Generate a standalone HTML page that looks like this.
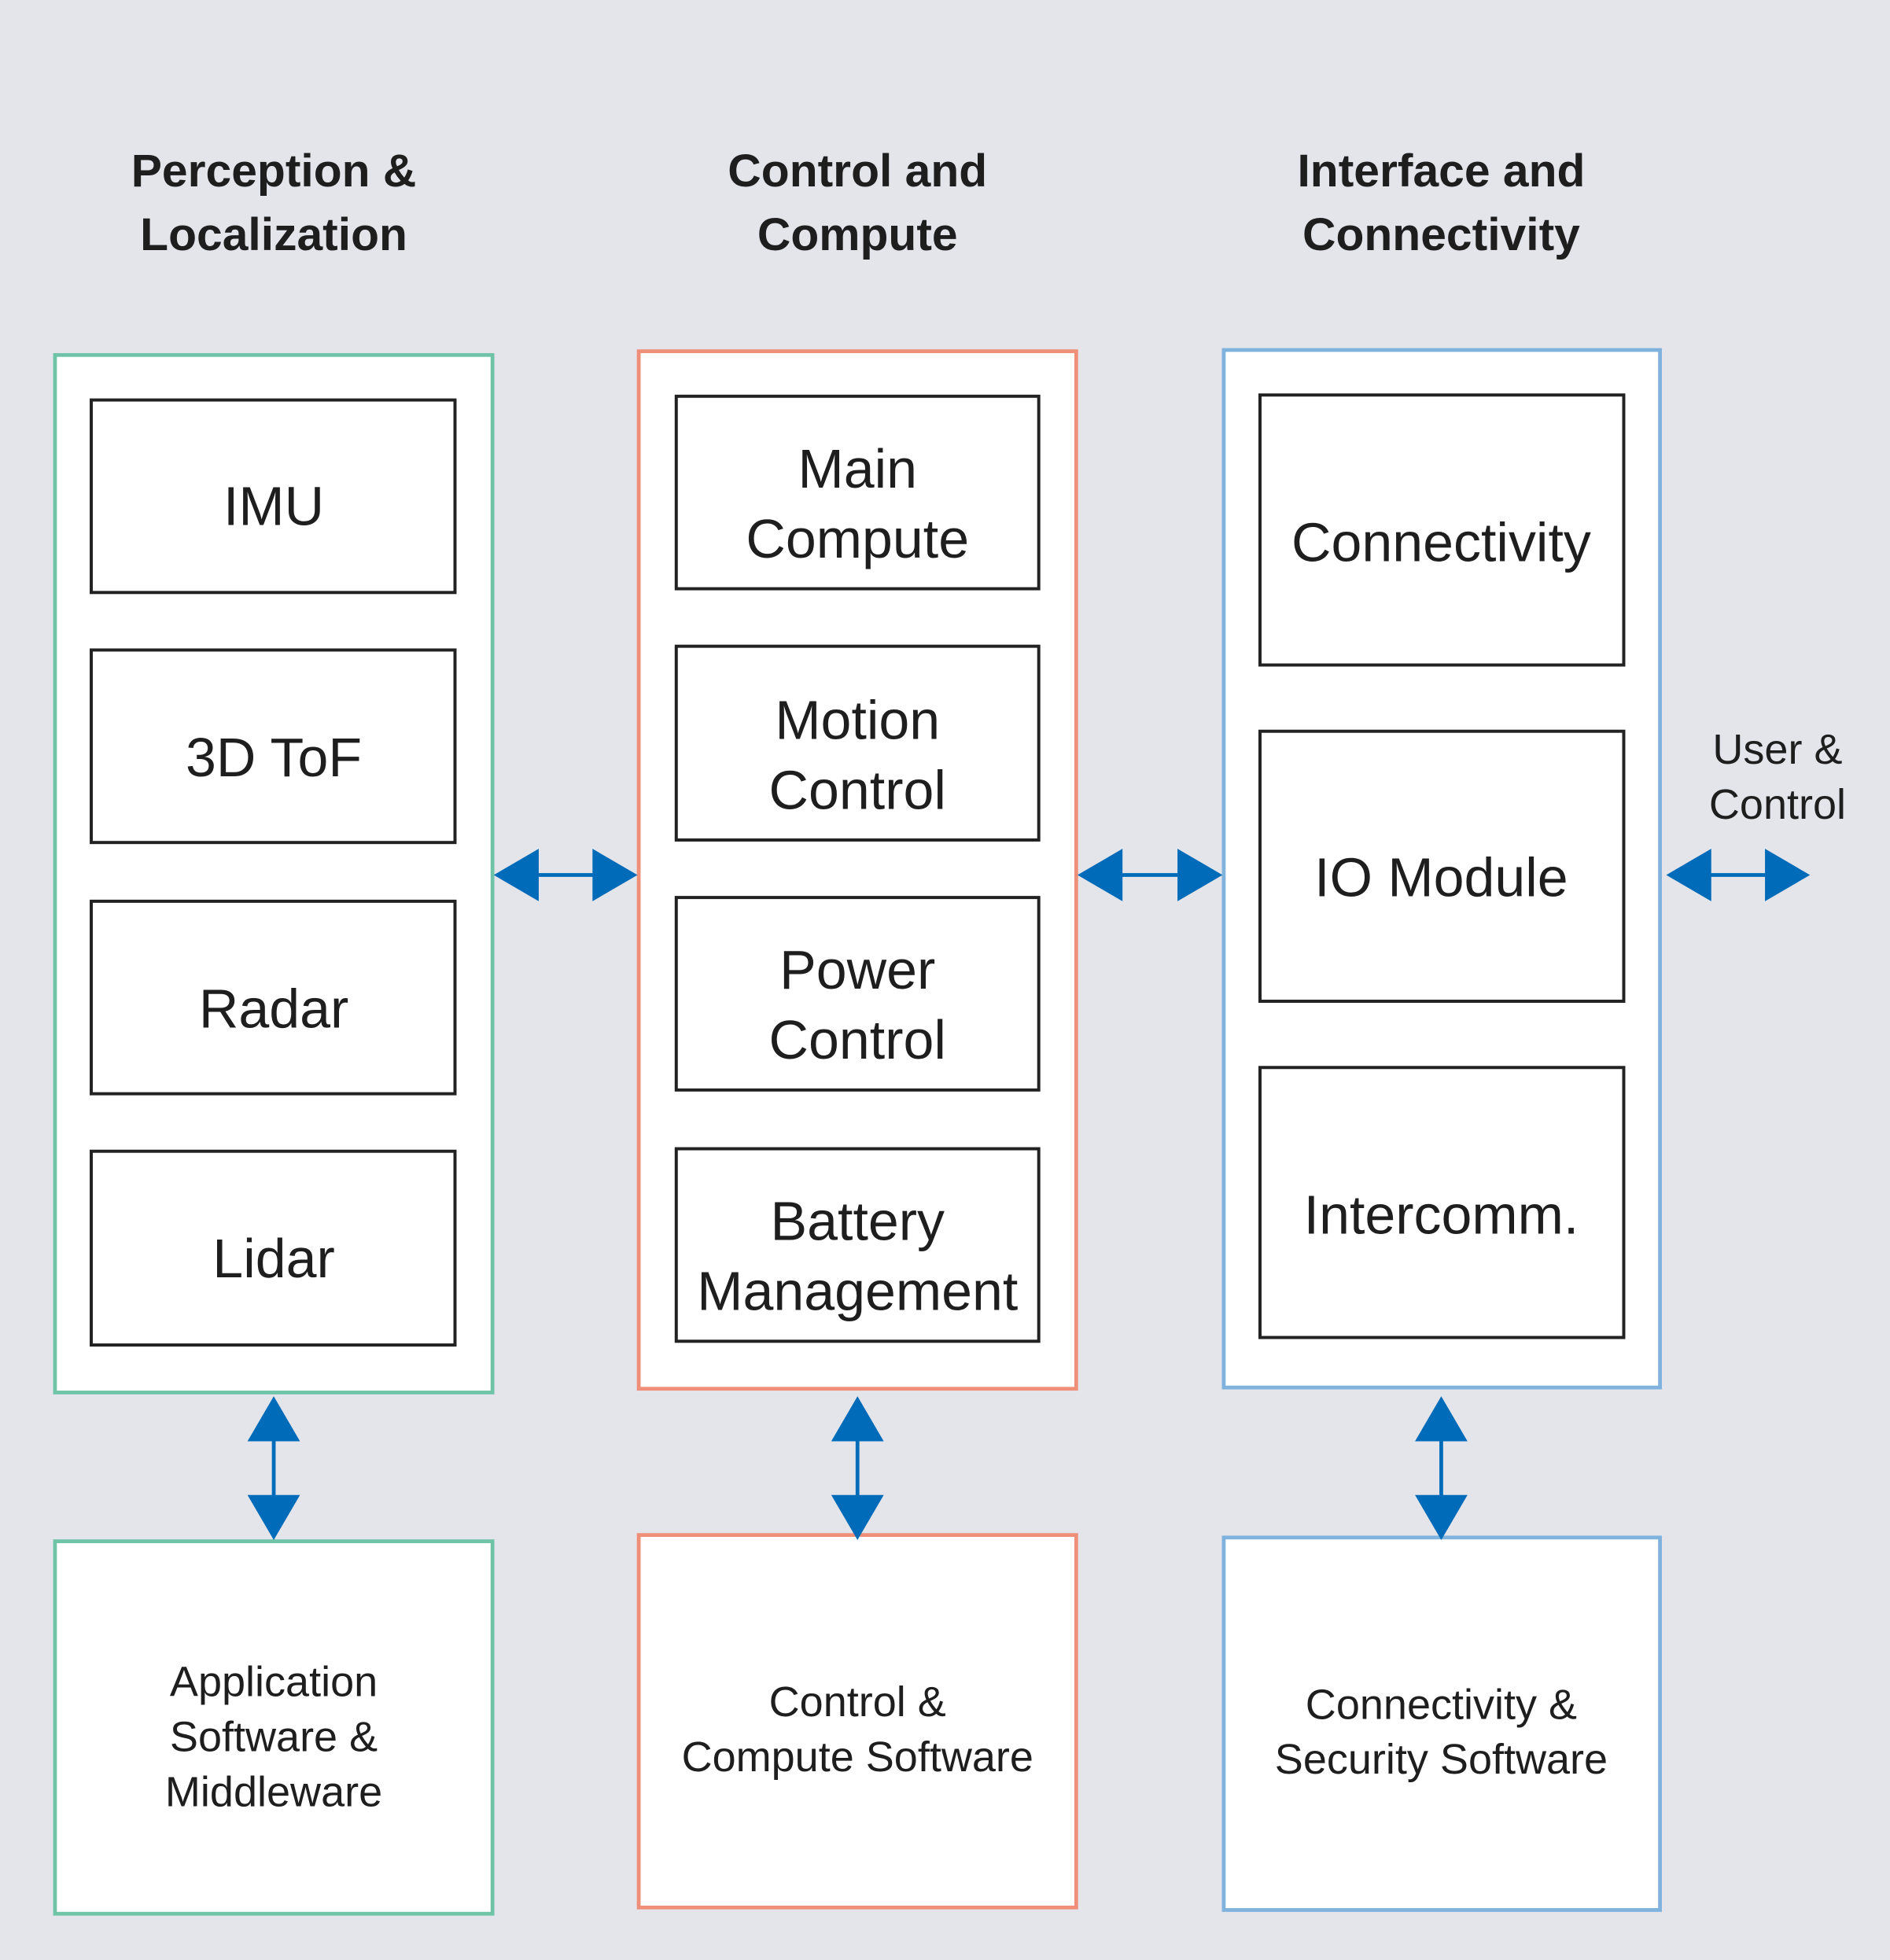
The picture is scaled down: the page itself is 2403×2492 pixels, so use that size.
<!DOCTYPE html>
<html><head><meta charset="utf-8"><style>
html,body{margin:0;padding:0;background:#e4e5eb;}
svg{display:block}
text{font-family:"Liberation Sans","DejaVu Sans",sans-serif;fill:#1e1e1e;text-anchor:middle;}
.h{font-weight:bold;font-size:37px;}
.b{font-size:44px;}
.s{font-size:34px;}
</style></head><body>
<svg width="2403" height="2492" viewBox="0 0 1512 1568" xmlns="http://www.w3.org/2000/svg">
<rect width="1512" height="1568" fill="#e4e5eb"/>
<text class="h" x="219" y="149">Perception &amp;</text>
<text class="h" x="219" y="200">Localization</text>
<text class="h" x="686" y="149">Control and</text>
<text class="h" x="686" y="200">Compute</text>
<text class="h" x="1153" y="149">Interface and</text>
<text class="h" x="1153" y="200">Connectivity</text>

<g stroke-width="3" fill="#fff">
<rect x="44" y="284" width="350" height="830" stroke="#6fc3a7"/>
<rect x="511" y="281" width="350" height="830" stroke="#ef8f78"/>
<rect x="979" y="280" width="349" height="830" stroke="#7fb2dc"/>
<rect x="44" y="1233" width="350" height="298" stroke="#6fc3a7"/>
<rect x="511" y="1228" width="350" height="298" stroke="#ef8f78"/>
<rect x="979" y="1230" width="349" height="298" stroke="#7fb2dc"/>
</g>
<g stroke-width="2.5" fill="#fff" stroke="#222">
<rect x="73" y="320" width="291" height="154"/>
<rect x="73" y="520" width="291" height="154"/>
<rect x="73" y="721" width="291" height="154"/>
<rect x="73" y="921" width="291" height="155"/>
<rect x="541" y="317" width="290" height="154"/>
<rect x="541" y="517" width="290" height="155"/>
<rect x="541" y="718" width="290" height="154"/>
<rect x="541" y="919" width="290" height="154"/>
<rect x="1008" y="316" width="291" height="216"/>
<rect x="1008" y="585" width="291" height="216"/>
<rect x="1008" y="854" width="291" height="216"/>
</g>
<text class="b" x="219" y="420">IMU</text>
<text class="b" x="219" y="621">3D ToF</text>
<text class="b" x="219" y="822">Radar</text>
<text class="b" x="219" y="1022">Lidar</text>
<text class="b" x="686" y="390">Main</text>
<text class="b" x="686" y="446">Compute</text>
<text class="b" x="686" y="591">Motion</text>
<text class="b" x="686" y="647">Control</text>
<text class="b" x="686" y="791">Power</text>
<text class="b" x="686" y="847">Control</text>
<text class="b" x="686" y="992">Battery</text>
<text class="b" x="686" y="1048">Management</text>
<text class="b" x="1153" y="449">Connectivity</text>
<text class="b" x="1153" y="717">IO Module</text>
<text class="b" x="1153" y="987">Intercomm.</text>
<text class="s" x="1422" y="611">User &amp;</text>
<text class="s" x="1422" y="655">Control</text>
<text class="s" x="219" y="1357">Application</text>
<text class="s" x="219" y="1401">Software &amp;</text>
<text class="s" x="219" y="1445">Middleware</text>
<text class="s" x="686" y="1373">Control &amp;</text>
<text class="s" x="686" y="1417">Compute Software</text>
<text class="s" x="1153" y="1375">Connectivity &amp;</text>
<text class="s" x="1153" y="1419">Security Software</text>

<g fill="#006bb8" stroke="#006bb8" stroke-width="3">
<line x1="420" y1="700" x2="485" y2="700"/>
<polygon stroke="none" points="395,700 431,679 431,721"/>
<polygon stroke="none" points="510,700 474,679 474,721"/>
<line x1="887" y1="700" x2="953" y2="700"/>
<polygon stroke="none" points="862,700 898,679 898,721"/>
<polygon stroke="none" points="978,700 942,679 942,721"/>
<line x1="1358" y1="700" x2="1423" y2="700"/>
<polygon stroke="none" points="1333,700 1369,679 1369,721"/>
<polygon stroke="none" points="1448,700 1412,679 1412,721"/>
<line x1="219" y1="1140" x2="219" y2="1210"/>
<polygon stroke="none" points="219,1117 198,1153 240,1153"/>
<polygon stroke="none" points="219,1232 198,1196 240,1196"/>
<line x1="686" y1="1140" x2="686" y2="1210"/>
<polygon stroke="none" points="686,1117 665,1153 707,1153"/>
<polygon stroke="none" points="686,1232 665,1196 707,1196"/>
<line x1="1153" y1="1140" x2="1153" y2="1210"/>
<polygon stroke="none" points="1153,1117 1132,1153 1174,1153"/>
<polygon stroke="none" points="1153,1232 1132,1196 1174,1196"/>
</g>
</svg>
</body></html>
